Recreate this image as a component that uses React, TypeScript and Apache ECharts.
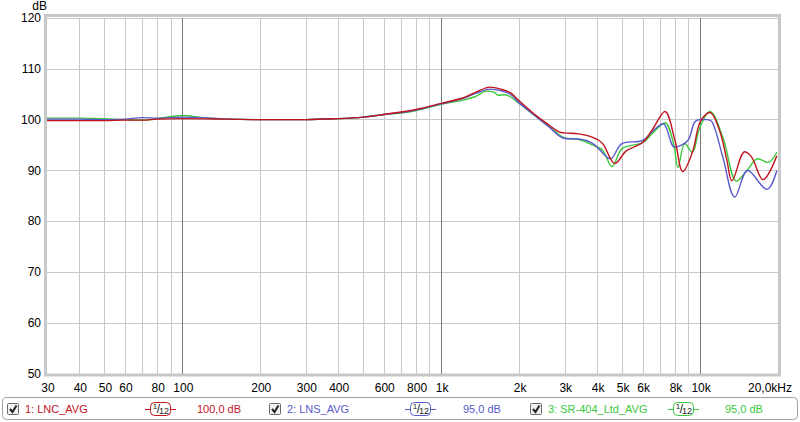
import React, { useEffect, useRef } from "react";
import * as echarts from "echarts";

// ---- data ----
const lncFreq = [30, 40, 50, 60, 70, 80, 100, 150, 200, 300, 400, 500, 600, 700, 800, 1000, 1200, 1350, 1550, 1700, 1850, 2000, 2300, 2600, 2850, 3000, 3400, 3850, 4200, 4690, 5200, 6000, 6570, 7310, 8000, 8580, 9380, 9990, 10900, 11900, 12700, 13270, 14900, 15850, 17500, 19800];
const lncDb = [99.8, 99.8, 99.8, 99.9, 99.9, 100.1, 100.2, 100.1, 100, 100, 100.2, 100.5, 101, 101.5, 102, 103.2, 104.2, 105.3, 106.4, 106, 105.3, 103.7, 101, 99, 97.6, 97.4, 97.2, 96.5, 95.3, 91.4, 93.9, 95.5, 98.2, 101.6, 95.9, 89.8, 93.9, 99.5, 101.4, 97.8, 92, 88, 93.7, 92.6, 88.2, 92.9];

const lnsFreq = [30, 40, 50, 60, 70, 80, 100, 150, 200, 300, 400, 500, 600, 700, 800, 1000, 1200, 1350, 1550, 1700, 1850, 2000, 2300, 2600, 3000, 3400, 3850, 4370, 4500, 4990, 6000, 6570, 7200, 7990, 8970, 9500, 10000, 10600, 11200, 12250, 13630, 15300, 18120, 19800];
const lnsDb = [100.1, 100.1, 100, 100.1, 100.4, 100.3, 100.5, 100.1, 100, 100, 100.2, 100.5, 101, 101.4, 101.9, 103.1, 104.1, 105.1, 106, 105.7, 105, 103.3, 100.8, 98.6, 96.3, 96.2, 95.3, 92.6, 92.3, 95.3, 95.9, 97.8, 99.2, 94.6, 95.9, 99.4, 100, 100, 99.3, 92.6, 84.8, 90, 86.3, 90];

const srFreq = [30, 40, 50, 60, 70, 80, 100, 120, 150, 200, 300, 400, 500, 600, 700, 800, 1000, 1200, 1350, 1500, 1600, 1660, 1760, 2000, 2300, 2600, 3000, 3400, 3850, 4200, 4570, 5000, 6000, 6600, 7310, 7900, 8210, 8740, 9300, 9990, 10900, 12250, 13870, 15170, 16730, 18280, 19800];
const srDb = [100.3, 100.3, 100.2, 100, 99.9, 100.2, 100.8, 100.4, 100.1, 100, 100, 100.2, 100.5, 101, 101.3, 101.8, 103, 103.8, 104.5, 105.6, 105.4, 104.8, 104.9, 103.2, 100.8, 98.8, 96.4, 96.1, 95, 94, 90.8, 94.3, 95.5, 97.5, 99.4, 95.3, 90.6, 95.3, 93.6, 98.5, 101.6, 96.5, 87.9, 90, 92.3, 91.6, 93.6];

const gridFreqs = [40, 50, 60, 70, 80, 90, 100, 200, 300, 400, 500, 600, 700, 800, 900, 1000, 2000, 3000, 4000, 5000, 6000, 7000, 8000, 9000, 10000];
const tickFreqs = [30, 40, 50, 60, 80, 100, 200, 300, 400, 600, 800, 1000, 2000, 3000, 4000, 5000, 6000, 8000, 10000, 20000];
const tickLabels = ["30", "40", "50", "60", "80", "100", "200", "300", "400", "600", "800", "1k", "2k", "3k", "4k", "5k", "6k", "8k", "10k", "20,0kHz"];
const decadeFreqs = [100, 1000, 10000];

const seriesNames = ["1: LNC_AVG", "2: LNS_AVG", "3: SR-404_Ltd_AVG"];
const seriesLevels = ["100,0 dB", "95,0 dB", "95,0 dB"];
const colors = ["#c0141e", "#5a5acd", "#3cc83c"];

const FONT = "'Liberation Sans', Arial, sans-serif";

function zip(f: number[], d: number[]) {
  return f.map((x, i) => [x, d[i]]);
}

function legendGraphic() {
  const els: any[] = [];
  els.push({
    type: "rect",
    shape: { x: 2.5, y: 397.5, width: 795, height: 22, r: 4 },
    style: { fill: "#ffffff", stroke: "#a0a0a0", lineWidth: 1 },
  });
  const cbX = [7, 269, 530];
  const nameX = [25, 287, 548];
  const iconX = [145, 405, 668];
  const levelX = [197, 463, 725];
  for (let i = 0; i < 3; i++) {
    const cy = 409;
    els.push({
      type: "rect",
      shape: { x: cbX[i] + 0.5, y: cy - 5.5, width: 11, height: 11, r: 1 },
      style: { fill: "#f0f0f0", stroke: "#6b6b6b", lineWidth: 1 },
    });
    els.push({
      type: "polyline",
      shape: { points: [[cbX[i] + 3, cy], [cbX[i] + 5.5, cy + 3], [cbX[i] + 9.5, cy - 3.5]] },
      style: { stroke: "#202020", lineWidth: 2, fill: null },
    });
    els.push({
      type: "text",
      style: { x: nameX[i], y: cy, text: seriesNames[i], fill: colors[i], font: `11px ${FONT}`, verticalAlign: "middle", align: "left" },
    });
    const ix = iconX[i];
    els.push({
      type: "line",
      shape: { x1: ix, y1: cy + 0.5, x2: ix + 31, y2: cy + 0.5 },
      style: { stroke: colors[i], lineWidth: 1 },
    });
    els.push({
      type: "rect",
      shape: { x: ix + 5.5, y: cy - 6.5, width: 20, height: 13, r: 4 },
      style: { fill: "#ffffff", stroke: colors[i], lineWidth: 1 },
    });
    els.push({
      type: "text",
      style: { x: ix + 10, y: cy - 3, text: "1", fill: "#222", font: `8px ${FONT}`, verticalAlign: "middle", align: "center" },
    });
    els.push({
      type: "text",
      style: { x: ix + 13.5, y: cy, text: "/", fill: "#222", font: `12px ${FONT}`, verticalAlign: "middle", align: "center" },
    });
    els.push({
      type: "text",
      style: { x: ix + 19, y: cy + 2, text: "12", fill: "#222", font: `9px ${FONT}`, verticalAlign: "middle", align: "center" },
    });
    els.push({
      type: "text",
      style: { x: levelX[i], y: cy, text: seriesLevels[i], fill: colors[i], font: `11px ${FONT}`, verticalAlign: "middle", align: "left" },
    });
  }
  return els;
}

export default function App() {
  const ref = useRef<HTMLDivElement>(null);
  useEffect(() => {
    if (!ref.current) return;
    const chart = echarts.init(ref.current, null, { renderer: "svg" });
    const gridData = gridFreqs.map((f) => [f, 50]);
    const tickData = tickFreqs.map((f, i) => [f, 50, i]);
    chart.setOption({
      animation: false,
      backgroundColor: "#ffffff",
      grid: { left: 47, right: 22, top: 17, bottom: 48, containLabel: false },
      xAxis: {
        type: "log",
        logBase: 10,
        min: 30,
        max: 20000,
        axisLine: { show: false },
        axisTick: { show: false },
        axisLabel: { show: false },
        splitLine: { show: false },
        minorSplitLine: { show: false },
      },
      yAxis: {
        type: "value",
        min: 50,
        max: 120,
        interval: 10,
        name: "dB",
        nameLocation: "end",
        nameGap: 4,
        nameTextStyle: { color: "#000", fontSize: 12, fontFamily: FONT, align: "right", padding: [0, 0, 0, 0] },
        axisLine: { show: false },
        axisTick: { show: false },
        axisLabel: { color: "#000", fontSize: 12, fontFamily: FONT, margin: 6 },
        splitLine: { show: true, lineStyle: { color: "#c8c8c8", width: 1 } },
      },
      graphic: [
        {
          type: "rect",
          z: 100,
          silent: true,
          shape: { x: 45.5, y: 15.5, width: 734, height: 359.5 },
          style: { fill: null, stroke: "#c8c8c8", lineWidth: 3 },
        },
        ...legendGraphic(),
      ],
      series: [
        {
          type: "custom",
          silent: true,
          clip: false,
          z: 1,
          data: gridData,
          encode: { x: 0, y: 1 },
          renderItem: (params: any, api: any) => {
            const f = api.value(0);
            const top = api.coord([f, 120]);
            const bot = api.coord([f, 50]);
            const isDecade = decadeFreqs.indexOf(f) >= 0;
            const x = Math.round(top[0]) + 0.5;
            return {
              type: "line",
              shape: { x1: x, y1: top[1], x2: x, y2: bot[1] },
              style: { stroke: isDecade ? "#7a7a7a" : "#c8c8c8", lineWidth: 1 },
            };
          },
        },
        {
          type: "custom",
          silent: true,
          clip: false,
          z: 1,
          data: tickData,
          encode: { x: 0, y: 1 },
          renderItem: (params: any, api: any) => {
            const f = api.value(0);
            const i = api.value(2);
            const p = api.coord([f, 50]);
            const last = i === tickLabels.length - 1;
            return {
              type: "text",
              style: {
                x: last ? p[0] + 14 : p[0] + 1,
                y: p[1] + 8,
                text: tickLabels[i],
                fill: "#000",
                font: `12px ${FONT}`,
                align: last ? "right" : "center",
                verticalAlign: "top",
              },
            };
          },
        },
        ...[zip(lncFreq, lncDb), zip(lnsFreq, lnsDb), zip(srFreq, srDb)].map((d, i) => ({
          type: "line",
          name: seriesNames[i],
          data: d,
          smooth: 0.35,
          showSymbol: false,
          symbol: "none",
          z: 10 - i,
          lineStyle: { color: colors[i], width: 1.4 },
        })),
      ],
    });
    return () => chart.dispose();
  }, []);
  return <div ref={ref} style={{ position: "fixed", left: 0, top: 0, width: 800, height: 422 }} />;
}
